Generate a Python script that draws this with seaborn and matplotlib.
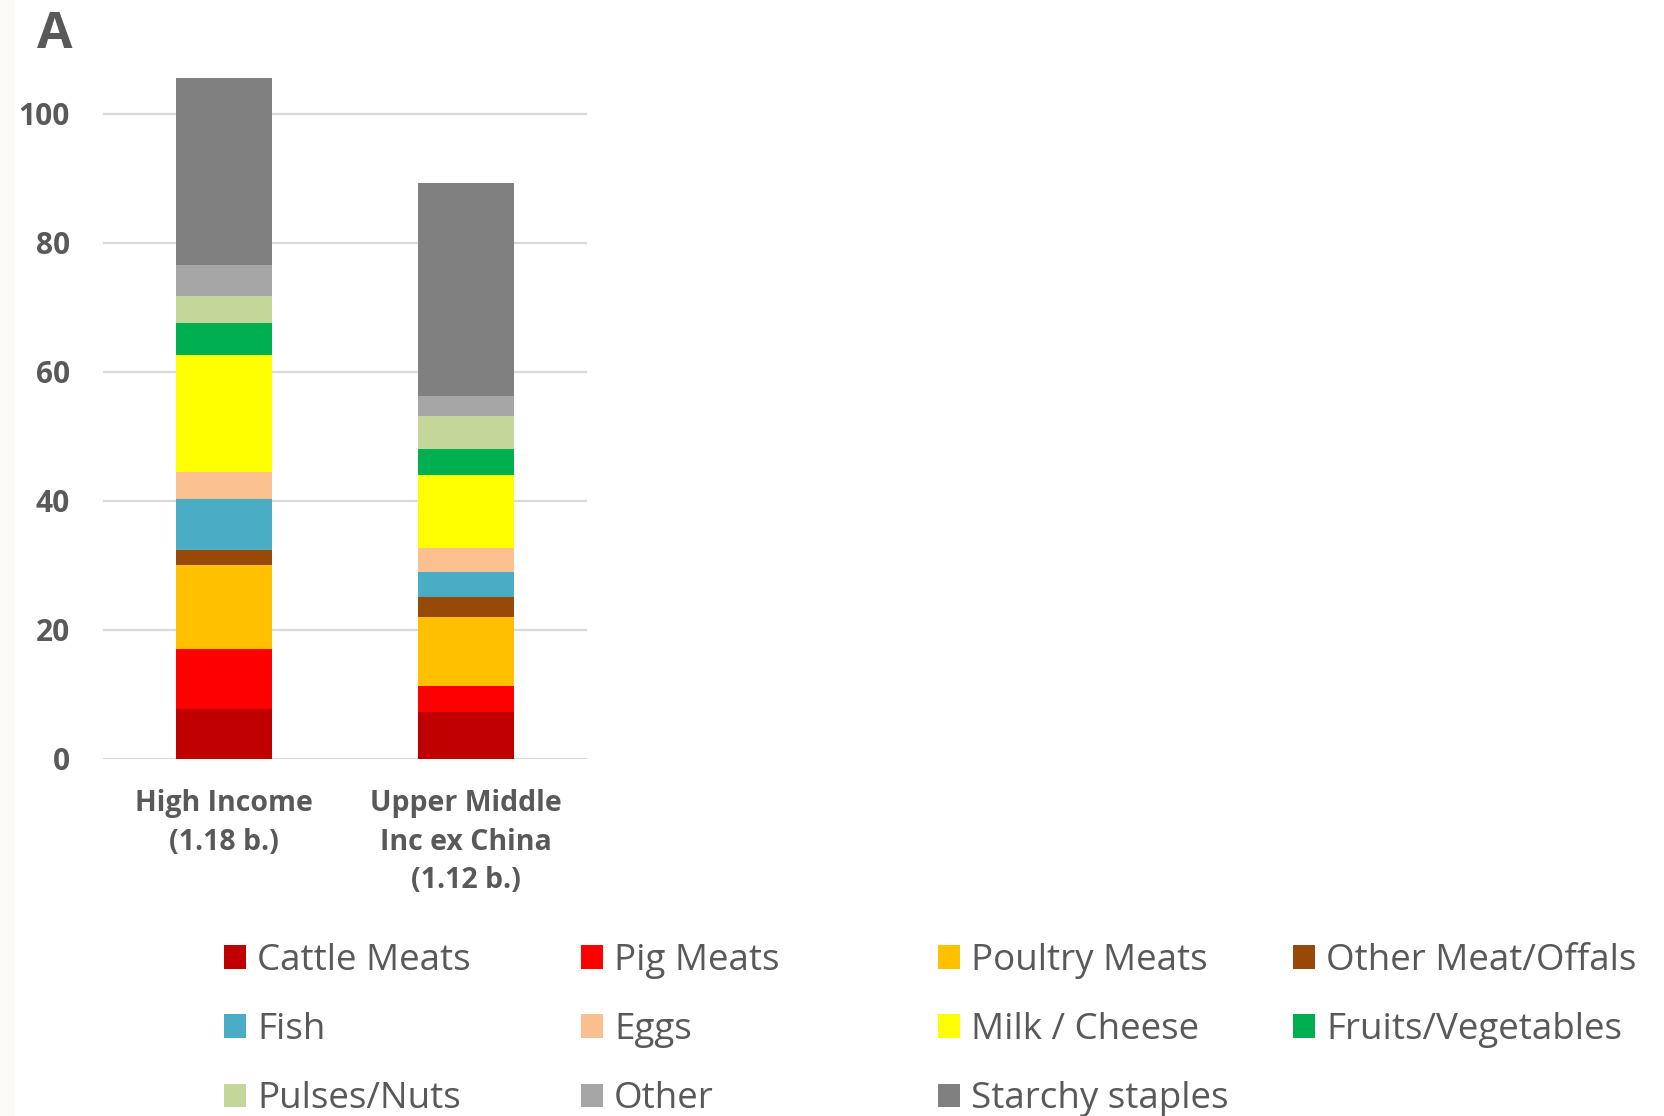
import matplotlib.pyplot as plt
import matplotlib.patches as mpatches
import numpy as np
import pandas as pd
import seaborn as sns

regions = ['High Income\n(1.18 b.)', 'Upper Middle\nInc ex China\n(1.12 b.)']
foods = ['Cattle Meats', 'Pig Meats', 'Poultry Meats', 'Other Meat/Offals',
         'Fish', 'Eggs', 'Milk / Cheese', 'Fruits/Vegetables',
         'Pulses/Nuts', 'Other', 'Starchy staples']
high_income = [7.7, 9.3, 13.0, 2.3, 7.9, 4.3, 18.1, 5.0, 4.1, 4.8, 29.0]
upper_middle = [7.2, 4.1, 10.6, 3.1, 3.9, 3.7, 11.4, 4.0, 5.2, 3.1, 33.0]
food_colors = ['#C00000', '#FF0000', '#FFC000', '#984807', '#4BACC6', '#FAC090',
               '#FFFF00', '#00B050', '#C4D79B', '#A6A6A6', '#808080']
yticks = [0, 20, 40, 60, 80, 100]

TXT = '#595959'

sns.set_theme(style='white')
plt.rcParams['font.family'] = ['Open Sans', 'DejaVu Sans']

df = pd.DataFrame({'region': regions * len(foods),
                   'food': np.repeat(foods, 2),
                   'value': np.ravel(np.column_stack([high_income, upper_middle]))})
# cumulative heights per region, drawn from the top segment down
df['top'] = df.groupby('region', sort=False)['value'].cumsum()

fig = plt.figure(figsize=(16.65, 11.16), dpi=100)
fig.patches.append(mpatches.Rectangle((0, 0), 15 / 1665, 1, transform=fig.transFigure,
                                      facecolor='#FCFBF6', edgecolor='none', zorder=0))
ax = fig.add_axes([103 / 1665, 1 - 758.7 / 1116, 484 / 1665, 110 * 6.45 / 1116])

for food, col in reversed(list(zip(foods, food_colors))):
    sub = df[df['food'] == food]
    sns.barplot(data=sub, x='region', y='top', order=regions, color=col,
                saturation=1, width=0.4, linewidth=0, ax=ax, zorder=3)

ax.set_xlim(-0.5, 1.5)
ax.set_ylim(0, 110)
ax.set_yticks(yticks)
ax.yaxis.grid(True, color='#D9D9D9', linewidth=1.6, zorder=0)
ax.set_axisbelow(True)
sns.despine(ax=ax, left=True, bottom=True)
ax.set_xlabel('')
ax.set_ylabel('')
ax.tick_params(axis='y', length=0, pad=24, labelsize=21.5, labelcolor=TXT)
ax.tick_params(axis='x', length=0, pad=22, labelsize=20.5, labelcolor=TXT)
for lab in ax.get_yticklabels() + ax.get_xticklabels():
    lab.set_fontweight('bold')
for lab in ax.get_xticklabels():
    lab.set_linespacing(1.43)
    lab.set_verticalalignment('top')

fig.text(37 / 1665, 1 - 10 / 1116, 'A', fontsize=37, fontweight='bold', color=TXT,
         ha='left', va='top')

# legend: four columns placed separately to get even spacing
col_x = [224, 581, 938, 1293]
for c in range(4):
    idx = list(range(c, len(foods), 4))
    handles = [mpatches.Patch(facecolor=food_colors[i], edgecolor='none') for i in idx]
    labels = [foods[i] for i in idx]
    leg = fig.legend(handles, labels, loc='upper left',
                     bbox_to_anchor=(col_x[c] / 1665, 1 - 943 / 1116),
                     frameon=False, fontsize=26.5, borderpad=0, borderaxespad=0,
                     handlelength=0.6, handleheight=0.6, handletextpad=0.3,
                     labelspacing=0.9, labelcolor=TXT)

fig.savefig('out.png', dpi=100)
